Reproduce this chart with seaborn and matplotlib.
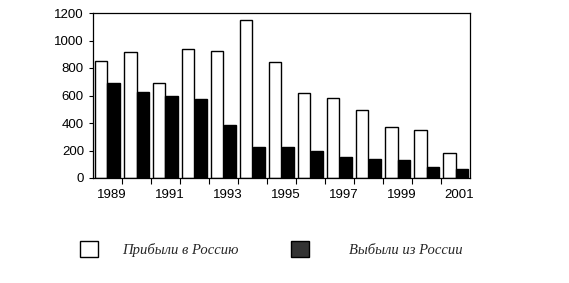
import matplotlib
matplotlib.use("Agg")
import matplotlib.pyplot as plt
import matplotlib.transforms as mtransforms
import seaborn as sns
import pandas as pd
from matplotlib.patches import Patch

years = list(range(1989, 2002))
arrived = [850, 915, 690, 936, 924, 1147, 841, 620, 584, 492, 368, 346, 184]
departed = [690, 625, 598, 575, 383, 225, 225, 196, 153, 136, 131, 82, 63]
series_names = ["Прибыли в Россию", "Выбыли из России"]
tick_labels = [str(y) if (y - 1989) % 2 == 0 else "" for y in years]

df = pd.DataFrame({
    "year": [str(y) for y in years] * 2,
    "value": arrived + departed,
    "series": [series_names[0]] * len(years) + [series_names[1]] * len(years),
})

sns.set_theme(style="white")
plt.rcParams["font.family"] = ["Liberation Sans", "DejaVu Sans"]

fig = plt.figure(figsize=(5.69, 2.83), dpi=100)
ax = fig.add_axes([93 / 569, 1 - 178 / 283, (470 - 93) / 569, (178 - 13) / 283])

sns.barplot(data=df, x="year", y="value", hue="series",
            palette=["white", "black"], width=0.86, edgecolor="black",
            linewidth=1.0, ax=ax, legend=False, saturation=1)

ax.set_ylim(0, 1200)
ax.set_yticks(range(0, 1201, 200))
ax.set_xlim(-0.5, len(years) - 0.5)
ax.set_xticks(range(len(years)))
ax.set_xticklabels(tick_labels)
ax.set_xticks([i + 0.5 for i in range(len(years) - 1)], minor=True)
ax.tick_params(axis="x", which="major", length=0, labelsize=9.5, pad=8, colors="black")
ax.tick_params(axis="x", which="minor", length=4, width=0.8, color="black", bottom=True)
ax.tick_params(axis="y", length=3, width=0.8, labelsize=9.5, colors="black", left=True)
shift = mtransforms.ScaledTranslation(4 / 100, 0, fig.dpi_scale_trans)
for lbl in ax.get_xticklabels():
    lbl.set_transform(lbl.get_transform() + shift)
ax.set_xlabel("")
ax.set_ylabel("")
for s in ax.spines.values():
    s.set_visible(True)
    s.set_color("black")
    s.set_linewidth(0.9)

leg_prop = {"family": "Liberation Serif", "style": "italic", "size": 10.5}
leg1 = fig.legend([Patch(facecolor="white", edgecolor="black", linewidth=1.0)], [series_names[0]],
                  loc="center left", bbox_to_anchor=(67 / 569, 1 - 249 / 283),
                  frameon=False, handlelength=1.25, handleheight=1.25,
                  handletextpad=1.65, prop=leg_prop)
leg2 = fig.legend([Patch(facecolor="#333333", edgecolor="black", linewidth=1.0)], [series_names[1]],
                  loc="center left", bbox_to_anchor=(278 / 569, 1 - 249 / 283),
                  frameon=False, handlelength=1.25, handleheight=1.25,
                  handletextpad=2.7, prop=leg_prop)

fig.savefig("out.png", dpi=100)
